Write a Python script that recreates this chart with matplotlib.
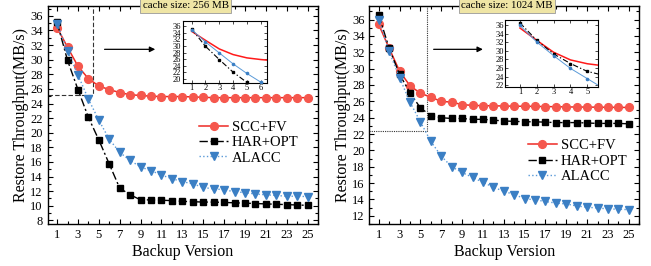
import numpy as np
import matplotlib
matplotlib.use("Agg")
import matplotlib.pyplot as plt
from matplotlib.ticker import MultipleLocator

plt.rcParams['font.family'] = ['Liberation Serif', 'DejaVu Serif']
plt.rcParams['mathtext.fontset'] = 'stix'

versions = list(range(1, 26))

# cache size: 256 MB
scc_256 = [34.4, 31.7, 29.1, 27.4, 26.4, 25.9, 25.5, 25.2, 25.1, 25.0,
           24.95, 24.95, 24.95, 24.9, 24.85, 24.8, 24.8, 24.8, 24.8, 24.8,
           24.8, 24.8, 24.8, 24.8, 24.8]
har_256 = [35.1, 29.9, 25.9, 22.1, 19.0, 15.7, 12.4, 11.5, 10.8, 10.8,
           10.75, 10.7, 10.6, 10.55, 10.5, 10.5, 10.45, 10.4, 10.35, 10.3,
           10.25, 10.2, 10.15, 10.1, 10.05]
alacc_256 = [34.9, 31.2, 27.9, 24.6, 21.7, 19.1, 17.3, 16.2, 15.3, 14.8,
             14.2, 13.7, 13.3, 13.0, 12.5, 12.3, 12.2, 11.9, 11.8, 11.6,
             11.5, 11.4, 11.3, 11.3, 11.25]

# cache size: 1024 MB
scc_1024 = [35.4, 32.5, 29.7, 27.9, 27.0, 26.5, 26.0, 25.9, 25.6, 25.5,
            25.47, 25.45, 25.43, 25.4, 25.4, 25.38, 25.36, 25.34, 25.32, 25.3,
            25.3, 25.28, 25.27, 25.26, 25.25]
har_1024 = [36.6, 32.5, 29.3, 27.05, 25.2, 24.25, 24.0, 23.9, 23.9, 23.8,
            23.8, 23.7, 23.6, 23.55, 23.5, 23.5, 23.45, 23.4, 23.4, 23.4,
            23.35, 23.3, 23.3, 23.3, 23.25]
alacc_1024 = [36.0, 32.1, 28.9, 25.9, 23.5, 21.1, 19.3, 18.0, 17.3, 16.7,
              16.1, 15.5, 15.0, 14.6, 14.1, 13.95, 13.75, 13.55, 13.45, 13.2,
              13.05, 12.95, 12.85, 12.8, 12.75]

titles = ["cache size: 256 MB", "cache size: 1024 MB"]

RED_LINE = '#ee2a24'
RED_MARK = '#f5574d'
BLUE_LINE = '#5a9ad8'
BLUE_MARK = '#3b7fc4'


def style_axes(ax, size):
    ax.tick_params(which='both', direction='in', top=True, right=True,
                   labelsize=size, width=0.8)
    ax.tick_params(which='major', length=3.5)
    ax.tick_params(which='minor', length=2)
    for s in ax.spines.values():
        s.set_linewidth(1.0)


def draw_panel(ax, scc, har, alacc, title, ylim, yticks, box, zoom_style,
               arrow_y, arrow_x, legend_anchor):
    ax.plot(versions, scc, color=RED_LINE, lw=1.1, marker='o', ms=5.6,
            mfc=RED_MARK, mec=RED_MARK, label='SCC+FV', zorder=3)
    ax.plot(versions, har, color='black', lw=1.0, ls=(0, (6, 2, 1.5, 2)),
            marker='s', ms=4.5, mfc='black', mec='black', label='HAR+OPT',
            zorder=3)
    ax.plot(versions, alacc, color=BLUE_LINE, lw=1.0, ls=':', marker='v',
            ms=6.2, mfc=BLUE_MARK, mec=BLUE_MARK, label='ALACC', zorder=3)
    ax.set_xlim(0.1, 26)
    ax.set_ylim(*ylim)
    ax.set_xticks(range(1, 26, 2))
    ax.xaxis.set_minor_locator(MultipleLocator(1))
    ax.set_yticks(yticks)
    ax.yaxis.set_minor_locator(MultipleLocator(1))
    style_axes(ax, 9)
    ax.set_xlabel('Backup Version', fontsize=11.5, labelpad=2)
    ax.set_ylabel('Restore Throughput(MB/s)', fontsize=11.5, labelpad=1)

    ax.text(0.51, 1.0, title, transform=ax.transAxes, ha='center',
            va='center', fontsize=7.8, zorder=10,
            bbox=dict(boxstyle='square,pad=0.25', fc='#efe5a5', ec='#999999',
                      lw=0.6))

    bx, by = box
    ax.plot([ax.get_xlim()[0], bx, bx], [by, by, ylim[1]], color='#333333',
            lw=0.8, ls=zoom_style, zorder=2)

    ax.annotate('', xy=(arrow_x[1], arrow_y), xytext=(arrow_x[0], arrow_y),
                xycoords='axes fraction',
                arrowprops=dict(arrowstyle='-|>', color='black', lw=0.9,
                                mutation_scale=8))

    ax.legend(loc='center left', bbox_to_anchor=legend_anchor, frameon=False,
              fontsize=10.5, handlelength=2.0, handletextpad=0.25,
              labelspacing=0.15, borderaxespad=0, borderpad=0)


def draw_inset(ax, scc, har, alacc, xlim, ylim, xticks, yticks):
    ax.plot(versions, scc, color='#ff1a1a', lw=1.1, zorder=3)
    ax.plot(versions, har, color='black', lw=0.8, ls=(0, (5, 2, 1.2, 2)),
            marker='s', ms=2, zorder=3)
    ax.plot(versions, alacc, color=BLUE_LINE, lw=0.7, marker='o', ms=1.6,
            mfc=BLUE_MARK, mec=BLUE_MARK, zorder=3)
    ax.set_xlim(*xlim)
    ax.set_ylim(*ylim)
    ax.set_xticks(xticks)
    ax.set_yticks(yticks)
    ax.tick_params(which='both', direction='in', top=True, right=True,
                   labelsize=6, length=2, width=0.5, pad=1)
    for s in ax.spines.values():
        s.set_linewidth(0.8)


fig = plt.figure(figsize=(6.51, 2.66), dpi=100)

ax1 = fig.add_axes([0.0733, 0.158, 0.4152, 0.8207])
ax2 = fig.add_axes([0.5673, 0.158, 0.4147, 0.8207])

draw_panel(ax1, scc_256, har_256, alacc_256, titles[0], (7.5, 37.4),
           range(8, 37, 2), (4.4, 25.2), (0, (4, 2)), 0.80, (0.20, 0.408),
           (0.56, 0.373))
draw_panel(ax2, scc_1024, har_1024, alacc_1024, titles[1], (11.0, 37.7),
           range(12, 37, 2), (5.62, 22.4), (0, (1, 1)), 0.80, (0.228, 0.431),
           (0.587, 0.288))

in1 = fig.add_axes([0.2806, 0.689, 0.130, 0.233])
in2 = fig.add_axes([0.7757, 0.674, 0.1433, 0.251])
draw_inset(in1, scc_256, har_256, alacc_256, (0.35, 6.48), (18.9, 37.6),
           range(1, 7), range(20, 37, 2))
draw_inset(in2, scc_1024, har_1024, alacc_1024, (0.11, 5.65), (21.6, 37.3),
           range(1, 6), range(22, 37, 2))

fig.savefig('out.png', dpi=100)
